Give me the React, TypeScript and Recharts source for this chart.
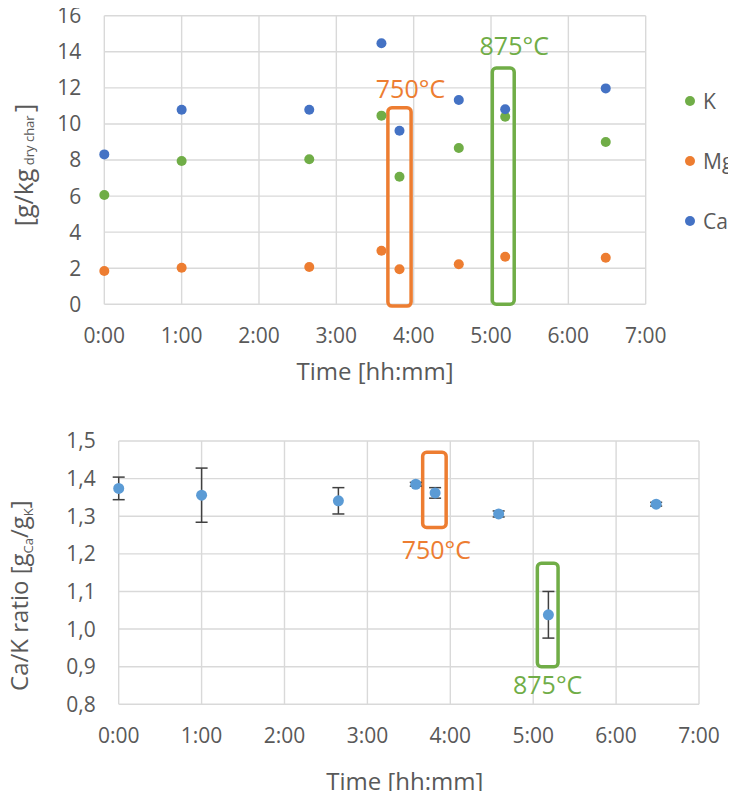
import { ScatterChart, Scatter, XAxis, YAxis, CartesianGrid, ReferenceArea, ErrorBar } from 'recharts';

// sampling times of the char samples
const sampleTimes = ['0:00', '1:00', '2:39', '3:35', '3:49', '4:35', '5:11', '6:29'];

// inorganic content of the char [g/kg dry char]
const kValues = [6.06, 7.94, 8.04, 10.46, 7.07, 8.67, 10.4, 9.0];
const mgValues = [1.85, 2.03, 2.07, 2.97, 1.94, 2.22, 2.64, 2.58];
const caValues = [8.31, 10.79, 10.79, 14.47, 9.62, 11.33, 10.81, 11.97];

// Ca/K ratio with its error
const ratioValues = [1.374, 1.356, 1.341, 1.385, 1.362, 1.306, 1.038, 1.332];
const ratioErrors = [0.03, 0.072, 0.035, 0.005, 0.014, 0.008, 0.062, 0.005];

const hourTicks = [0, 1, 2, 3, 4, 5, 6, 7];
const massTicks = [0, 2, 4, 6, 8, 10, 12, 14, 16];
const ratioTicks = [0.8, 0.9, 1.0, 1.1, 1.2, 1.3, 1.4, 1.5];

// temperature steps marked with boxes
const tempLabels = ['750°C', '875°C'];
const tempColors = ['#ED7D31', '#70AD47'];
const topBoxTimes = [['3:40', '3:58'], ['5:01', '5:18']];
const topBoxValues = [[-0.1, 10.9], [0, 13.1]];
const bottomBoxTimes = [['3:40', '3:57'], ['5:03', '5:18']];
const bottomBoxValues = [[1.27, 1.47], [0.9, 1.175]];

const FONT = '"Open Sans", sans-serif';
const TEXT = '#595959';
const GRID = '#D9D9D9';

const toHours = (t: string) => {
  const [h, m] = t.split(':').map(Number);
  return h + m / 60;
};

const series = [
  { name: 'K', color: '#70AD47', values: kValues },
  { name: 'Mg', color: '#ED7D31', values: mgValues },
  { name: 'Ca', color: '#4472C4', values: caValues },
];

const ratioData = sampleTimes.map((t, i) => ({ x: toHours(t), y: ratioValues[i], err: ratioErrors[i] }));

const tickStyle = { fill: TEXT, fontSize: 21, fontFamily: FONT };
const hourFormat = (v: number) => `${v}:00`;
const commaFormat = (v: number) => v.toFixed(1).replace('.', ',');

const dot = (r: number, color: string) => (p: any) => <circle cx={p.cx} cy={p.cy} r={r} fill={color} />;

const TopXTitle = (props: any) => {
  const vb = props.viewBox;
  return (
    <text x={vb.x + vb.width / 2} y={vb.y + 76} textAnchor="middle" fill={TEXT} fontSize={24} fontFamily={FONT}>
      Time [hh:mm]
    </text>
  );
};

const BottomXTitle = (props: any) => {
  const vb = props.viewBox;
  return (
    <text x={vb.x + vb.width / 2 - 4} y={vb.y + 86} textAnchor="middle" fill={TEXT} fontSize={24} fontFamily={FONT}>
      Time [hh:mm]
    </text>
  );
};

const TopYTitle = (props: any) => {
  const vb = props.viewBox;
  const bx = vb.x - 1;
  const cy = vb.y + vb.height / 2 + 5;
  return (
    <text x={bx} y={cy} transform={`rotate(-90 ${bx} ${cy})`} textAnchor="middle" fill={TEXT} fontSize={25} fontFamily={FONT}>
      [g/kg
      <tspan fontSize={13} dy={1}> dry char </tspan>
      <tspan dy={-1}>]</tspan>
    </text>
  );
};

const BottomYTitle = (props: any) => {
  const vb = props.viewBox;
  const bx = vb.x - 11;
  const cy = vb.y + vb.height / 2 + 23;
  return (
    <text x={bx} y={cy} transform={`rotate(-90 ${bx} ${cy})`} textAnchor="middle" fill={TEXT} fontSize={24} fontFamily={FONT}>
      Ca/K ratio [g
      <tspan fontSize={13} dy={5}>Ca</tspan>
      <tspan dy={-5}>/g</tspan>
      <tspan fontSize={13} dy={5}>K</tspan>
      <tspan dy={-5}>]</tspan>
    </text>
  );
};

const Legend = () => (
  <div style={{ position: 'absolute', left: 685, top: 86, fontFamily: FONT, fontSize: 21, color: TEXT }}>
    {series.map(s => (
      <div key={s.name} style={{ height: 60, display: 'flex', alignItems: 'flex-start' }}>
        <span style={{ width: 10, height: 10, borderRadius: 5, background: s.color, marginTop: 10, marginRight: 8 }} />
        <span style={{ lineHeight: '30px' }}>{s.name}</span>
      </div>
    ))}
  </div>
);

export default function App() {
  return (
    <div style={{ position: 'relative', width: 736, height: 799, margin: -8, fontFamily: FONT, background: '#fff' }}>
      <div style={{ position: 'absolute', left: 0, top: 0 }}>
        <ScatterChart width={736} height={400} margin={{ top: 15.7, right: 90.3, bottom: 15.7, left: 34.3 }}>
          <CartesianGrid stroke={GRID} strokeWidth={1.4} />
          <XAxis
            dataKey="x"
            type="number"
            domain={[0, 7]}
            ticks={hourTicks}
            interval={0}
            tickFormatter={hourFormat}
            axisLine={false}
            tickLine={false}
            tickSize={0}
            tickMargin={24}
            height={80}
            tick={tickStyle}
            label={(p: any) => <TopXTitle {...p} />}
          />
          <YAxis
            dataKey="y"
            type="number"
            domain={[0, 16]}
            ticks={massTicks}
            interval={0}
            axisLine={false}
            tickLine={false}
            tickSize={0}
            tickMargin={23}
            width={70}
            tick={tickStyle}
            label={(p: any) => <TopYTitle {...p} />}
          />
          {series.map(s => (
            <Scatter
              key={s.name}
              name={s.name}
              data={sampleTimes.map((t, i) => ({ x: toHours(t), y: s.values[i] }))}
              fill={s.color}
              shape={dot(5, s.color)}
              isAnimationActive={false}
            />
          ))}
          {tempLabels.map((lbl, i) => (
            <ReferenceArea
              key={lbl}
              x1={toHours(topBoxTimes[i][0])}
              x2={toHours(topBoxTimes[i][1])}
              y1={topBoxValues[i][0]}
              y2={topBoxValues[i][1]}
              fill="none"
              fillOpacity={0}
              stroke={tempColors[i]}
              strokeWidth={3.5}
              radius={4}
              ifOverflow="visible"
              label={{ value: lbl, position: 'top', offset: i === 0 ? 10 : 13, dx: 11, fill: tempColors[i], fontSize: 25, fontFamily: FONT }}
            />
          ))}
        </ScatterChart>
        <Legend />
      </div>
      <div style={{ position: 'absolute', left: 0, top: 400 }}>
        <ScatterChart width={736} height={399} margin={{ top: 41, right: 37, bottom: 4.7, left: 38.7 }}>
          <CartesianGrid stroke={GRID} strokeWidth={1.4} />
          <XAxis
            dataKey="x"
            type="number"
            domain={[0, 7]}
            ticks={hourTicks}
            interval={0}
            tickFormatter={hourFormat}
            axisLine={false}
            tickLine={false}
            tickSize={0}
            tickMargin={24}
            height={90}
            tick={tickStyle}
            label={(p: any) => <BottomXTitle {...p} />}
          />
          <YAxis
            dataKey="y"
            type="number"
            domain={[0.8, 1.5]}
            ticks={ratioTicks}
            interval={0}
            tickFormatter={commaFormat}
            axisLine={false}
            tickLine={false}
            tickSize={0}
            tickMargin={23}
            width={80}
            tick={tickStyle}
            label={(p: any) => <BottomYTitle {...p} />}
          />
          <Scatter data={ratioData} fill="#5B9BD5" shape={dot(5.5, '#5B9BD5')} isAnimationActive={false}>
            <ErrorBar dataKey="err" direction="y" width={6} stroke="#404040" strokeWidth={1.5} isAnimationActive={false} />
          </Scatter>
          {tempLabels.map((lbl, i) => (
            <ReferenceArea
              key={lbl}
              x1={toHours(bottomBoxTimes[i][0])}
              x2={toHours(bottomBoxTimes[i][1])}
              y1={bottomBoxValues[i][0]}
              y2={bottomBoxValues[i][1]}
              fill="none"
              fillOpacity={0}
              stroke={tempColors[i]}
              strokeWidth={3.5}
              radius={4}
              ifOverflow="visible"
              label={{ value: lbl, position: 'bottom', offset: i === 0 ? 14 : 10, dx: i === 0 ? 2 : 0, fill: tempColors[i], fontSize: 25, fontFamily: FONT }}
            />
          ))}
        </ScatterChart>
      </div>
    </div>
  );
}
